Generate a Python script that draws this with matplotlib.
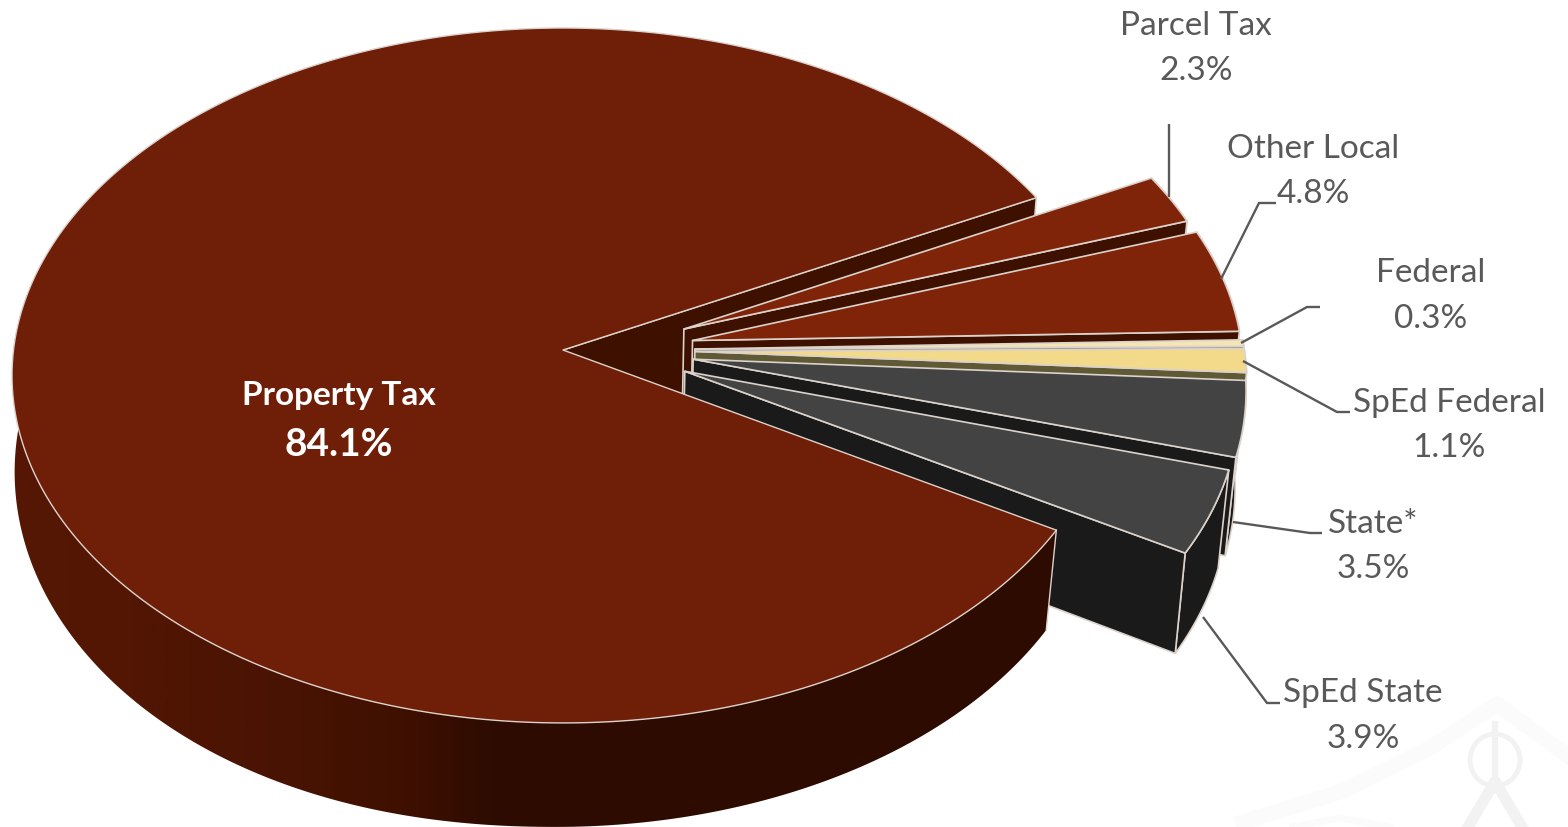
import numpy as np
import matplotlib.pyplot as plt
from matplotlib.colors import LinearSegmentedColormap
from matplotlib.patches import Polygon, Ellipse

names = ['Property Tax', 'Parcel Tax', 'Other Local', 'Federal', 'SpEd Federal', 'State*', 'SpEd State']
shares = [84.1, 2.3, 4.8, 0.3, 1.1, 3.5, 3.9]

top_colors = ['#6f1e08', '#7f2408', '#7f2408', '#f4e6b4', '#f2da8a', '#434343', '#434343']
wall_colors = ['#3d1000', '#3d1000', '#3d1000', '#8f8c80', '#5f5a35', '#1a1a1a', '#1a1a1a']

# pie geometry, in pixels
x0 = 563
y_top = 350
y_bot = 446
a_top = 549.5
a_bot = 540.7
b_top = 345.6
b_bot = 353
k = 0.0733
explode = 0.24
explode_v = 0.65
start_deg = 27.1
edge = '#dcd2cc'
text_col = '#595959'

plt.rcParams['font.family'] = ['Lato', 'DejaVu Sans']
fig = plt.figure(figsize=(15.68, 8.27), dpi=100)
ax = fig.add_axes([0, 0, 1, 1])


def proj(u, v, bottom=False):
    w = 1 + k*v
    if bottom:
        return x0 + a_bot*u/w, y_bot - b_bot*v/w
    return x0 + a_top*u/w, y_top - b_top*v/w


def ring(t1, t2, off=(0, 0), bottom=False, n=120):
    t = np.radians(np.linspace(t1, t2, n))
    x, y = proj(np.cos(t) + off[0], np.sin(t) + off[1], bottom)
    return np.column_stack([x, y])


def poly(pts, color, z, ec=edge, lw=1.2):
    ax.add_patch(Polygon(pts, closed=True, facecolor=color, edgecolor=ec, linewidth=lw, zorder=z, joinstyle='round'))


# faint emblem in the lower right corner
wx = [1243, 1340, 1430, 1497, 1568]
wy = [822, 792, 748, 704, 756]
ax.plot(wx, wy, color='#fbfbfb', lw=11, zorder=0, solid_joinstyle='round')
ax.plot([1293, 1340, 1390], [827, 818, 827], color='#fbfbfb', lw=5, zorder=0)
wm = '#f2f2f2'
ax.add_patch(Ellipse((1495, 760), 50, 52, fill=False, ec=wm, lw=3.5, zorder=0))
ax.plot([1495, 1495], [724, 783], color=wm, lw=4.5, zorder=0)
ax.add_patch(Ellipse((1495, 783), 12, 12, fc=wm, ec=wm, zorder=0))
ax.plot([1490, 1468], [790, 827], color=wm, lw=8, zorder=0)
ax.plot([1500, 1522], [790, 827], color=wm, lw=8, zorder=0)

# slice angles run clockwise from the end of the big slice
sweeps = np.array(shares)*3.6
z = 2

# back wall of the notch in the big slice
a_pt = ring(start_deg, start_deg, n=1)[0]
b_pt = ring(start_deg, start_deg, bottom=True, n=1)[0]
poly([proj(0, 0), a_pt, b_pt, proj(0, 0, True)], wall_colors[0], 1)

ang = start_deg
for i in range(1, len(shares)):
    t1 = ang
    t2 = ang - sweeps[i]
    mid = np.radians((t1 + t2)/2)
    off = (explode*np.cos(mid), explode*explode_v*np.sin(mid))
    top_arc = ring(t1, t2, off)
    bot_arc = ring(t1, t2, off, True)
    apex = proj(off[0], off[1])
    apex_b = proj(off[0], off[1], True)
    # outer wall, then the cut wall, then the top face
    poly(np.vstack([top_arc, bot_arc[::-1]]), wall_colors[i], z)
    poly([apex, top_arc[-1], bot_arc[-1], apex_b], wall_colors[i], z + 0.1)
    poly(np.vstack([[apex], top_arc]), top_colors[i], z + 0.2)
    z += 1
    ang = t2

# front wall of the big slice, shaded from left to right
end_deg = start_deg - sweeps[1:].sum()
wall_top = ring(end_deg, -200, n=300)
t_wall = np.radians(np.linspace(end_deg, -200, 300))
w_wall = 1 + k*np.sin(t_wall)
r_wall = np.cos(t_wall)/w_wall
# the lower rim bulges a little more on its left half
wall_x = np.where(r_wall > 0, 556 + 546*r_wall, 556 - 540*np.abs(r_wall)**0.93)
wall_bot = np.column_stack([wall_x, y_bot - b_bot*np.sin(t_wall)/w_wall])
wall_pts = np.vstack([wall_top, wall_bot[::-1]])
wall_patch = Polygon(wall_pts, closed=True, facecolor='none', edgecolor='none', zorder=20)
ax.add_patch(wall_patch)
shade = LinearSegmentedColormap.from_list('shade', [(0, '#561805'), (0.125, '#521603'), (0.283, '#481303'), (0.377, '#3f1000'), (0.472, '#2d0b00'), (1, '#2e0c00')])
im = ax.imshow(np.linspace(0, 1, 512).reshape(1, -1), cmap=shade, extent=[0, 1060, 827, 300], aspect='auto', zorder=20)
im.set_clip_path(wall_patch)
ax.plot([wall_top[0, 0], wall_bot[0, 0]], [wall_top[0, 1], wall_bot[0, 1]], color=edge, lw=1.0, zorder=21)

# top face of the big slice
main_arc = ring(start_deg, 360 + end_deg, n=500)
poly(np.vstack([[proj(0, 0)], main_arc]), top_colors[0], 22, lw=1.0)

# leader lines
leaders = {
    'Parcel Tax': ([1169, 1169], [124, 197]),
    'Other Local': ([1276, 1259, 1221], [203, 203, 279]),
    'Federal': ([1320, 1307, 1241], [307, 307, 343]),
    'SpEd Federal': ([1243, 1337, 1350], [361, 412, 412]),
    'State*': ([1233, 1310, 1322], [522, 533, 533]),
    'SpEd State': ([1203, 1267, 1280], [617, 703, 703]),
}
for lx, ly in leaders.values():
    ax.plot(lx, ly, color=text_col, lw=1.7, zorder=30, solid_capstyle='butt')

# labels
spots = {
    'Parcel Tax': (1196, 26, 71),
    'Other Local': (1313, 149, 194),
    'Federal': (1431, 273, 319),
    'SpEd Federal': (1449, 403, 448),
    'State*': (1373, 524, 569),
    'SpEd State': (1363, 693, 739),
}
for name, share in zip(names[1:], shares[1:]):
    lx, ly1, ly2 = spots[name]
    ax.text(lx, ly1, name, color=text_col, fontsize=24, ha='center', va='center', zorder=31)
    ax.text(lx, ly2, f'{share:.1f}%', color=text_col, fontsize=24, ha='center', va='center', zorder=31)

ax.text(339, 396, names[0], color='white', fontsize=24, fontweight='bold', ha='center', va='center', zorder=31)
ax.text(339, 445, f'{shares[0]:.1f}%', color='white', fontsize=28, fontweight='bold', ha='center', va='center', zorder=31)

ax.set_xlim(0, 1568)
ax.set_ylim(827, 0)
ax.axis('off')
fig.savefig('out.png', dpi=100, facecolor='white')
